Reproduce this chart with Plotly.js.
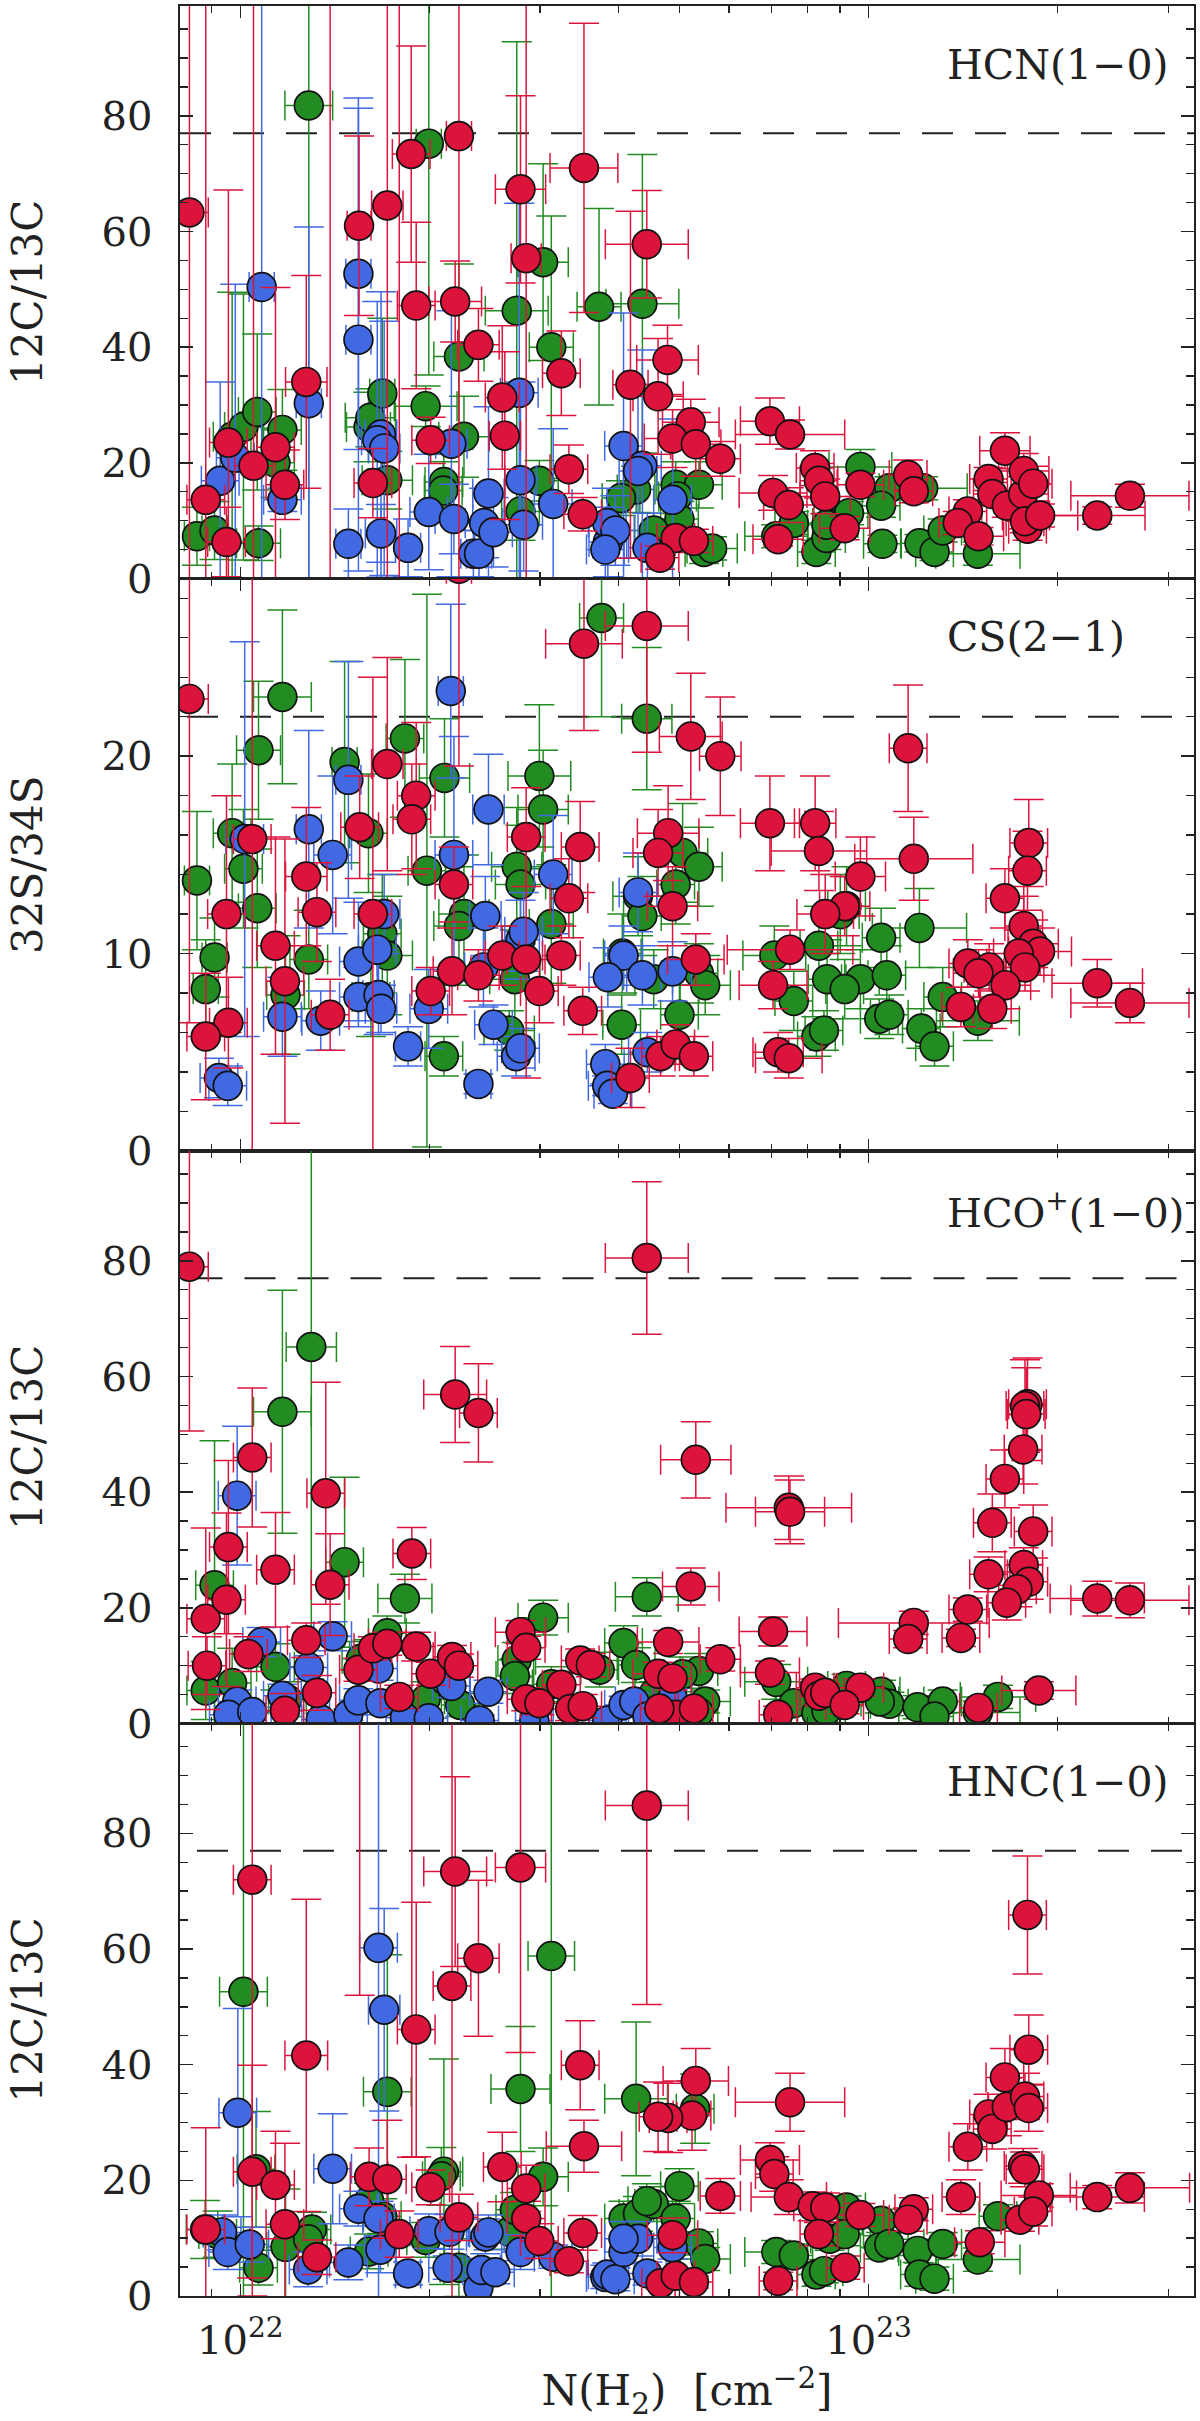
<!DOCTYPE html>
<html><head><meta charset="utf-8">
<script src="https://cdn.plot.ly/plotly-3.0.1.min.js"></script>
<style>html,body{margin:0;padding:0;background:#fff}</style></head>
<body><div id="chart" style="width:1200px;height:2421px"></div>
<script>
// Dex = log10(N(H2) / 1e22). Y = ratio, Ey = ratio error, Ex = error on N(H2) in dex.
const hcnRedDex=[-.081,-.055,-.022,-.019,.021,.056,.071,.105,.143,.189,.234,.253,.211,.272,.280,.303,.342,.348,.379,.417,.421,.446,.455,.511,.523,.545,.547,.647,.621,.680,.665,.717,.688,.725,.764,.843,.875,.848,.873,.856,.915,.921,.931,.962,.987,1.063,1.072,1.158,1.142,1.175,1.191,1.197,1.217,1.220,1.246,1.247,1.253,1.249,1.262,1.273,1.364,1.416,.693,.722,.668];
const hcnRedY=[63.3,13.6,6.3,23.5,19.5,22.7,16.2,34,105,61,64.5,105,16.5,73.4,47.2,23.9,47.9,76.5,40.4,31.3,24.7,67.3,55.4,35.5,18.9,11.1,71,57.8,33.5,37.8,31.5,27,24.2,23.2,20.7,27.2,24.9,14.8,12.7,6.8,19.1,16.9,14.2,8.7,16.2,17.9,15.1,11.6,9.6,7.3,17.2,14.6,22.1,12.6,14.6,18.6,8.6,9.9,16.4,10.9,10.9,14.3,7,6.5,3.6];
const hcnRedEy=[70,90,6,43.7,80,27.6,6,18.4,105,15.5,70,105,6,18.7,14.4,4,7,80,6.3,12.4,14.5,16.2,70,7.3,4.2,2.9,25,9.3,30,6,10,4,5,5.5,3,4,2.5,3,3,1.2,3,3,3,2,2,2.6,2,2,2,1.5,2,2,3.1,2,3,3,2,2,3,2,1.5,2,2,2,2];
const hcnRedEx=[.03,.03,.03,.03,.03,.03,.03,.033,.02,.019,.025,.02,.03,.03,.03,.03,.042,.02,.033,.027,.025,.04,.024,.03,.03,.03,.054,.066,.028,.049,.04,.045,.045,.04,.032,.047,.087,.054,.04,.04,.03,.03,.04,.04,.037,.03,.03,.03,.03,.04,.03,.03,.04,.04,.04,.04,.03,.03,.03,.06,.076,.094,.03,.03,.03];

const hcnGreenDex=[-.069,-.041,-.013,.005,.027,.056,.067,.029,.109,.300,.204,.207,.226,.234,.295,.324,.323,.348,.356,.440,.482,.495,.476,.446,.571,.640,.630,.693,.730,.696,.699,.658,.606,.738,.751,.853,.881,.987,1.033,1.020,1.087,.917,.933,.953,.969,.933,1.022,1.081,1.105,1.118,1.174];
const hcnGreenY=[7.3,8.3,24.5,26.2,28.8,20,25.7,6.1,81.8,75.2,26.2,27.8,32,17,29.8,16.7,15.2,38.4,24.5,46.3,54.7,40,16.9,11.6,47,47.5,15.4,16.2,16.2,14.2,10.3,8.3,13.9,4.6,5.2,7.3,9.6,19.3,15.6,12.6,15.6,4.6,7,9.6,11.3,9.3,6,6.1,4.6,8.3,4.3];
const hcnGreenEy=[5,5,25,23,13.5,6,7,3,100,40,6,5,13,5,3.5,5,5,16,7,46.5,17,22.7,3.5,5,17,25.8,4,4,4,3,3,3,3,2,2,2,2,3,2,2,2,2,2,2,2,2,1.5,1.5,1.5,2,2];
const hcnGreenEx=[.02,.02,.03,.03,.03,.03,.03,.035,.038,.02,.035,.04,.02,.04,.05,.03,.03,.04,.04,.05,.04,.035,.03,.03,.035,.058,.03,.03,.037,.03,.03,.03,.03,.03,.04,.05,.03,.05,.03,.03,.07,.03,.03,.03,.03,.03,.03,.03,.03,.03,.067];

const hcnBlueDex=[.034,-.032,-.008,.109,.067,.188,.188,.224,.218,.229,.172,.224,.267,.300,.336,.340,.371,.380,.395,.388,.403,.446,.444,.451,.498,.585,.610,.640,.633,.688,.584,.597,.581,.648];
const hcnBlueY=[50.4,16.9,20.9,30.3,13.6,52.7,41.3,24.9,23.9,22.5,6,7.8,5.3,11.5,23.3,10.3,4.3,4.3,14.7,9.6,8,17,32.1,9.3,12.9,6.3,22.9,19.5,18.6,13.6,9.6,8.3,5,5.3];
const hcnBlueEy=[60,17.1,30,30.5,2,30.4,40,24.7,24,22,6,5,5,10,23,6,4,4,15,6,6,17,32.8,8,13,6,23,20,15,14,6,6,5,6];
const hcnBlueEx=[.02,.03,.03,.02,.03,.02,.02,.025,.025,.025,.02,.025,.02,.03,.025,.03,.02,.02,.025,.03,.03,.025,.03,.03,.03,.03,.03,.03,.03,.03,.03,.03,.03,.03];

const csRedDex=[-.081,-.022,.019,-.019,-.055,.056,.071,.105,.122,.143,.190,.234,.211,.280,.273,.303,.337,.340,.379,.348,.417,.455,.455,.476,.511,.523,.541,.545,.547,.647,.717,.764,.681,.665,.688,.621,.725,.843,.915,.921,.987,.962,.931,.875,.848,.856,.873,1.063,1.072,1.255,1.253,1.217,1.247,1.262,1.273,1.239,1.158,1.192,1.175,1.249,1.218,1.147,1.197,1.364,1.416,.669,.693,.722];
const csRedY=[22.9,12,15.8,6.5,5.8,10.4,8.6,13.9,12.1,6.9,16.4,19.6,12,18,16.8,8.1,9.1,13.5,8.9,29.5,9.9,9.7,15.9,8.1,9.9,12.8,15.4,7.1,25.7,26.6,21,20,16.1,15.1,12.4,3.7,9.7,16.6,16.6,15.2,13.9,12.4,12,10.2,8.4,5,4.7,20.4,14.8,15.6,14.2,12.8,11.4,10.5,10.1,10,9.5,9.3,9,9.3,8.4,7.3,7.2,8.5,7.5,4.8,5.4,4.8];
const csRedEy=[16.4,6,16,2.3,3.2,5.5,7.2,3.5,2.5,1.8,2.6,5.4,12,3.7,2.8,1.2,2.2,1.9,1.3,10,1.5,6,2.5,1.6,1.5,2,2.3,1.2,4.4,6.4,3.2,3,2.4,2.2,2,1.5,1.3,2.4,2.4,2,2,1.5,2,1,1.2,1,1,3.2,2.1,2.2,2,1.5,1.5,1.2,1.2,1.2,1.2,1.2,1.2,1.2,1.2,1,1,1.2,1,1,1,1];
const csRedEx=[.03,.03,.03,.03,.03,.03,.03,.033,.03,.03,.03,.025,.03,.03,.03,.03,.03,.03,.033,.02,.027,.03,.03,.03,.03,.03,.03,.03,.061,.066,.05,.033,.049,.04,.04,.03,.045,.047,.033,.076,.04,.04,.045,.1,.054,.04,.053,.03,.094,.03,.03,.03,.03,.04,.05,.04,.03,.04,.04,.03,.04,.03,.03,.072,.094,.03,.03,.03];

const csGreenDex=[-.069,-.041,-.055,-.013,.005,.027,.029,.067,.072,.109,.166,.204,.226,.234,.208,.262,.297,.325,.324,.356,.348,.440,.446,.437,.428,.476,.482,.495,.575,.647,.633,.640,.693,.704,.730,.608,.658,.730,.740,.699,.607,.850,.881,.921,.934,.987,.962,1.029,1.020,1.081,.955,.965,1.017,1.033,1.084,1.105,1.118,1.174,.917,.929];
const csGreenY=[13.7,9.8,8.2,16.1,14.3,12.3,20.3,23,7.9,9.7,19.7,16.1,11,9.9,7.8,20.9,14.2,18.9,4.8,12,11.4,14.4,13.5,8.7,6.1,19,17.3,11.5,27,21.9,12.9,11.9,13.5,15.1,14.4,10,8.7,9,8.4,6.9,6.4,9.9,7.6,10.4,8.7,8.7,8.2,8.9,10.8,11.3,12,12.4,6.7,6.9,6.2,5.3,7.8,6.6,5.8,6.1];
const csGreenEy=[3.5,2,2.5,3.5,3,3,3.5,4.4,3,2.5,5.1,3,3,3,2,4,14,3,1,3,3,3,3,2.5,1,3.6,3,3,5,3.6,2,2,2,2.5,2,2,1.5,1.5,1.5,1.5,1.5,1.5,1.5,2,2,1.5,1.5,1.5,1.5,2,2,2,1,1,1,1,1.5,1,1,1];
const csGreenEx=[.02,.02,.02,.03,.03,.03,.035,.046,.03,.03,.02,.03,.03,.04,.03,.03,.03,.04,.03,.04,.04,.04,.04,.04,.04,.05,.04,.035,.035,.04,.04,.03,.03,.04,.037,.03,.03,.03,.04,.03,.03,.05,.03,.03,.03,.03,.03,.03,.03,.075,.03,.03,.03,.03,.03,.03,.03,.066,.03,.03];

const csBlueDex=[-.034,-.020,.007,.109,.147,.172,.067,.128,.188,.188,.220,.224,.229,.218,.267,.300,.335,.340,.379,.390,.387,.395,.403,.439,.446,.446,.451,.498,.581,.584,.593,.633,.610,.585,.640,.688,.648];
const csBlueY=[3.7,3.3,15.8,16.3,15,18.8,6.8,6.6,9.6,7.8,7.9,7.2,12,10.2,5.3,7.2,23.3,15,3.4,11.9,9.3,17.3,6.4,4.8,5.2,10.7,11.1,14,4.4,3.3,2.9,13.1,9.9,8.8,8.9,9.1,5];
const csBlueEy=[1,1,10,5,4,6,2,1.5,3,1.5,2,1.2,2,2,1,2,4.4,6,.5,2,2,2.8,1,1,1,2,2,3,1,.5,.5,2,1.5,1.5,1.5,1.5,1];
const csBlueEx=[.03,.03,.03,.02,.03,.02,.03,.03,.03,.03,.025,.025,.025,.03,.02,.03,.02,.03,.02,.025,.03,.025,.03,.03,.03,.03,.03,.03,.03,.03,.03,.03,.03,.03,.03,.03,.03];

const hcopRedDex=[-.081,-.055,-.053,-.019,-.022,.019,.056,.013,.105,.071,.122,.136,.143,.188,.211,.234,.253,.280,.273,.303,.337,.348,.342,.379,.446,.455,.455,.476,.511,.525,.545,.541,.558,.647,.725,.873,.875,.717,.681,.665,.688,.764,.848,.843,.856,.915,.921,.931,.987,.962,1.072,1.063,1.147,1.158,1.191,1.197,1.217,1.246,1.253,1.249,1.251,1.262,1.247,1.255,1.237,1.220,1.364,1.416,1.271,1.175,.693,.667,.722];
const hcopRedY=[79,18.1,10,30.5,21.4,46,26.6,12,14.4,2.2,5.3,39.8,24,9.3,13,13.8,4.6,13.3,29.4,8.6,11.5,10,56.9,53.7,15.8,13.1,4.2,3.5,6.7,2.5,3,10.9,10.1,80.5,45.6,37.3,36.6,23.7,14.1,8.6,7.8,11.1,15.9,8.8,1.5,6.2,4.8,5.3,6.2,3.2,17.4,14.6,14.8,19.7,25.8,34.7,42.3,47.4,55.2,54.9,53.5,33.2,27.4,24.5,23.2,20.9,21.6,21.3,5.7,2.7,1.5,2.6,2.6];
const hcopRedEy=[28.4,15.7,5,15,15,12,9.9,3,3,3,3,19.2,8.8,2,2,2,2,2.5,4.5,2,2,2,8.3,8.5,2,2,2,2,2,2,2,2,2,13.2,6.6,5.5,5.5,3.2,2,2,2,2,2.5,2,1.5,1.5,1.5,1.5,1.5,1.5,2,1.5,1.5,2,3,5,5,6,8,8,8,4.6,3,3,3,3,3,3,1.5,1,1,1,1];
const hcopRedEx=[.03,.03,.03,.03,.03,.03,.03,.03,.03,.03,.03,.03,.03,.03,.03,.03,.03,.03,.03,.03,.03,.03,.05,.03,.04,.03,.03,.03,.03,.03,.03,.03,.03,.066,.056,.1,.055,.045,.049,.04,.03,.032,.054,.047,.03,.03,.03,.03,.037,.03,.12,.03,.03,.03,.03,.03,.03,.03,.03,.03,.03,.03,.03,.03,.03,.03,.075,.094,.059,.03,.03,.03,.03];

const hcopGreenDex=[-.055,-.041,-.013,.056,.075,.067,.113,.166,.234,.262,.204,.192,.295,.326,.350,.482,.440,.437,.495,.647,.610,.572,.630,.730,.704,.658,.740,.730,.853,.881,.917,.933,.965,1.020,1.033,1.018,1.078,1.118,1.105,1.206,1.174];
const hcopGreenY=[5.7,23.9,7,9.8,4.2,53.9,65.1,27.9,15.6,21.6,11.5,11.2,4.2,7.5,3.2,18.3,11,8.2,6.8,21.9,13.9,9.3,10.1,9.1,8.5,5.2,3.8,1.9,7.2,3.5,1.8,2.2,6.5,5.5,3.4,3.8,2.8,3.8,1.2,4.6,1.9];
const hcopGreenEy=[5,25,6,4,3,21,70,14.7,3,4.2,3,3,3,3,2,3,3,3,3,3.3,3,3,3,3,3,2,2,2,3,2,2,2,2,2,2,2,2,2,2,2,2];
const hcopGreenEx=[.03,.03,.03,.03,.03,.046,.04,.03,.03,.043,.03,.03,.03,.03,.03,.04,.03,.03,.03,.05,.03,.03,.03,.03,.03,.03,.04,.03,.05,.03,.03,.03,.03,.03,.03,.03,.03,.03,.03,.06,.067];

const hcopBlueDex=[-.005,.034,.147,.109,.067,-.005,-.019,.019,.128,.172,.188,.220,.223,.262,.300,.336,.395,.381,.468,.584,.610,.627,.648,.688];
const hcopBlueY=[39.4,14.1,15.1,9.7,4.8,3.8,1.5,2,.7,1.5,4,9.5,3.5,1,.9,6.5,5.5,.5,.5,.5,3.2,3.8,1.2,4.5];
const hcopBlueEy=[12,2.5,2.5,2,2,2,1.5,1.5,1,1,2,2,2,1,1,2,2,1,1,1,1.5,1.5,1,1.5];
const hcopBlueEx=[.03,.03,.03,.03,.03,.03,.03,.03,.03,.03,.03,.03,.03,.03,.03,.03,.03,.03,.03,.03,.03,.03,.03,.03];

const hncRedDex=[-.055,.019,.019,.056,.071,.105,.122,.205,.234,.253,.280,.190,.273,.303,.337,.342,.379,.348,.417,.446,.455,.455,.476,.523,.541,.545,.547,.647,.725,.719,.681,.665,.688,.764,.843,.850,.875,.873,.856,.911,.931,.921,.987,.963,1.072,1.063,1.147,1.158,1.177,1.191,1.197,1.217,1.220,1.255,1.249,1.255,1.246,1.249,1.271,1.241,1.262,1.253,1.364,1.416,.669,.693,.722];
const hncRedY=[11.5,72,21.5,19.2,12.4,41.6,6.7,20.6,20.2,10.7,46.1,110,110,18.8,53.6,73.4,58.4,13.6,22.3,74.1,18.6,13.4,9.5,6,39.9,10.9,25.9,84.8,37.2,31.2,30.8,31,10.5,17.3,23.5,21.1,33.5,17.1,2.6,15.5,15.3,10.7,14,4.9,15,13.2,17.1,25.8,9.3,31.4,28.9,37.8,32.7,42.6,34.5,32.5,22.5,21.9,17.4,13.2,14.6,65.9,17.1,18.7,2.2,3.5,2.4];
const hncRedEy=[17.6,72,18.4,9.3,14,27,3,5,10.2,4,22,58,86,3,60,16.4,13.5,4,6,32,4,3,3,2,7.7,3,4.5,34.4,5.6,6,6,6,3,3,3,3,5,3,1.5,2.5,2.5,2,2,2,2,2,3,4,2,3.5,3.5,5,5,6,4,4,3,3,2,2,2.5,10.2,2,2.6,1,1,1];
const hncRedEx=[.03,.03,.03,.03,.03,.034,.03,.03,.03,.03,.03,.03,.03,.03,.03,.05,.033,.03,.03,.04,.03,.03,.03,.03,.03,.03,.06,.066,.052,.03,.03,.03,.04,.032,.047,.03,.087,.06,.03,.03,.03,.03,.037,.03,.03,.03,.03,.03,.04,.03,.03,.03,.03,.03,.03,.03,.03,.03,.06,.03,.03,.03,.075,.095,.03,.03,.03];

const hncGreenDex=[-.056,-.036,.005,.025,.029,.072,.114,.108,.205,.205,.226,.234,.295,.324,.320,.348,.428,.437,.446,.482,.495,.610,.633,.658,.647,.699,.693,.730,.740,.724,.853,.881,.917,.929,.938,.965,.962,1.020,1.017,1.033,1.078,1.081,1.105,1.118,1.174,1.206,.630];
const hncGreenY=[11.5,10.7,52.6,21.9,4.9,8.5,11.5,9.8,7.7,16.5,13.8,35.3,9.7,21.5,20.7,4.9,11.1,14.9,35.8,20.6,58.8,13.4,14.2,15.9,16.4,19,13.4,9.1,6.4,32.4,7.6,7,3.7,4.3,9.9,15.3,10.7,13,8.4,9,7.8,3.7,3,9,6.3,13.8,34.1];
const hncGreenEy=[5,4,53,10,3,10,3,3,3,3,3,23.7,3,19.5,5,5,3,3,10.8,5,70,3,3,3,3,3,3,2,2,6,2,2,2,2,2,2,2,2,2,2,2,2,2,2,2,2,13.3];
const hncGreenEx=[.03,.03,.038,.03,.03,.03,.03,.03,.03,.03,.03,.038,.03,.03,.03,.03,.03,.03,.047,.04,.037,.03,.03,.03,.03,.03,.03,.03,.04,.03,.05,.03,.03,.03,.03,.03,.03,.03,.03,.03,.03,.03,.03,.03,.067,.03,.05];

const hncBlueDex=[-.029,-.004,-.020,.015,.147,.108,.172,.188,.220,.220,.229,.223,.267,.300,.333,.330,.390,.395,.379,.384,.406,.446,.498,.581,.584,.597,.610,.633,.648,.688,.610];
const hncBlueY=[11,31.7,7.6,8.9,22,4.6,5.8,15.1,60.2,13.4,49.5,8,3.9,11.2,11.1,4.9,10.3,11,1.4,4.5,4.1,7.6,6.8,3.3,3.7,2.9,7.6,9.9,3.9,8.4,9.9];
const hncBlueEy=[3,18,3,3,9.5,3,3,3,65,3,17.5,4,2,3,3,2,3,3,2,2,2,3,2,2,2,2,2,3,2,2,3];
const hncBlueEx=[.03,.03,.03,.03,.03,.03,.03,.03,.03,.025,.025,.025,.02,.03,.03,.03,.03,.03,.02,.03,.03,.03,.03,.03,.03,.03,.03,.03,.03,.03,.03];

const panelLabels=['HCN(1−0)','CS(2−1)','HCO<sup>+</sup>(1−0)','HNC(1−0)'];
const yTitles=['12C/13C','32S/34S','12C/13C','12C/13C'];
const yMax=[99,29,99,99];
const refRatio=[77,22,77,77];
const yMajor=[[0,20,40,60,80],[0,10,20],[0,20,40,60,80],[0,20,40,60,80]];
const yMinor=[[5,10,15,25,30,35,45,50,55,65,70,75,85,90,95],[2,4,6,8,12,14,16,18,22,24,26,28],[5,10,15,25,30,35,45,50,55,65,70,75,85,90,95],[5,10,15,25,30,35,45,50,55,65,70,75,85,90,95]];
const xMajor=[1e22,1e23];
const xMajorText=['10<sup>22</sup>','10<sup>23</sup>'];
const xMinor=[9e21,2e22,3e22,4e22,5e22,6e22,7e22,8e22,9e22,2e23,3e23];
const xRangeLog=[21.904,23.518];

const colors={blue:'#4169E1',green:'#228B22',red:'#DC143C'};
const seriesByPanel=[
 [[hcnGreenDex,hcnGreenY,hcnGreenEy,hcnGreenEx,'green'],[hcnBlueDex,hcnBlueY,hcnBlueEy,hcnBlueEx,'blue'],[hcnRedDex,hcnRedY,hcnRedEy,hcnRedEx,'red']],
 [[csGreenDex,csGreenY,csGreenEy,csGreenEx,'green'],[csBlueDex,csBlueY,csBlueEy,csBlueEx,'blue'],[csRedDex,csRedY,csRedEy,csRedEx,'red']],
 [[hcopGreenDex,hcopGreenY,hcopGreenEy,hcopGreenEx,'green'],[hcopBlueDex,hcopBlueY,hcopBlueEy,hcopBlueEx,'blue'],[hcopRedDex,hcopRedY,hcopRedEy,hcopRedEx,'red']],
 [[hncGreenDex,hncGreenY,hncGreenEy,hncGreenEx,'green'],[hncBlueDex,hncBlueY,hncBlueEy,hncBlueEx,'blue'],[hncRedDex,hncRedY,hncRedEy,hncRedEx,'red']]
];
const W=1200,H=2421,mL=180,mR=6,mT=6,mB=125;
const FONT='DejaVu Serif', INK='#222222';
const data=[];
const layout={width:W,height:H,margin:{l:mL,r:mR,t:mT,b:mB},paper_bgcolor:'#fff',plot_bgcolor:'#fff',showlegend:false,
  font:{family:FONT,color:INK,size:40},shapes:[],annotations:[]};
const dashOffset=[0,7,11.5,17];
seriesByPanel.forEach((group,p)=>{
  const sfx=p===0?'':String(p+1);
  const top=1-p/4, bot=1-(p+1)/4;
  group.forEach(([dex,y,ey,ex,c])=>{
    const N=dex.map(d=>1e22*Math.pow(10,d));
    data.push({type:'scatter',mode:'markers',xaxis:'x'+sfx,yaxis:'y'+sfx,x:N,y:y,
      marker:{size:28.8,color:colors[c],line:{color:'#111',width:1.7}},
      error_y:{type:'data',symmetric:true,array:ey,color:colors[c],thickness:1.5,width:15},
      error_x:{type:'data',symmetric:false,
        array:dex.map((d,i)=>1e22*Math.pow(10,d+ex[i])-N[i]),
        arrayminus:dex.map((d,i)=>N[i]-1e22*Math.pow(10,d-ex[i])),
        color:colors[c],thickness:1.5,width:15},
      hoverinfo:'skip'});
  });
  layout['xaxis'+sfx]={type:'log',range:xRangeLog,anchor:'y'+sfx,domain:[0,1],
    tickmode:'array',tickvals:xMajor,ticktext:xMajorText,ticks:'inside',ticklen:12,tickwidth:1.6,tickcolor:INK,
    minor:{tickmode:'array',tickvals:xMinor,ticks:'inside',ticklen:7,tickwidth:1.4,tickcolor:INK},
    showline:true,linecolor:INK,linewidth:1.6,mirror:'ticks',showgrid:false,zeroline:false,
    showticklabels:p===3,ticklabelstandoff:8,tickfont:{family:FONT,size:40,color:INK},
    title:p===3?{text:'N(H<sub>2</sub>)  [cm<sup>−2</sup>]',font:{family:FONT,size:42,color:INK},standoff:6}:undefined};
  layout['yaxis'+sfx]={range:[0,yMax[p]],anchor:'x'+sfx,domain:[bot,top],
    tickmode:'array',tickvals:yMajor[p],ticktext:yMajor[p].map(String),ticks:'inside',ticklen:13,tickwidth:1.6,tickcolor:INK,
    minor:{tickmode:'array',tickvals:yMinor[p],ticks:'inside',ticklen:8,tickwidth:1.4,tickcolor:INK},
    showline:true,linecolor:INK,linewidth:1.6,mirror:'ticks',showgrid:false,zeroline:false,
    ticklabelstandoff:18,tickfont:{family:FONT,size:40,color:INK},
    title:{text:yTitles[p],font:{family:FONT,size:42,color:INK},standoff:46}};
  layout.shapes.push({type:'line',layer:'below',xref:'x'+sfx+' domain',yref:'y'+sfx,x0:dashOffset[p]/1014,x1:1,y0:refRatio[p],y1:refRatio[p],
    line:{color:INK,width:2,dash:'31px,22px'}});
  layout.annotations.push({xref:'x'+sfx+' domain',yref:'y'+sfx+' domain',x:(945-180)/1014,y:0.897,xanchor:'left',yanchor:'middle',
    text:panelLabels[p],showarrow:false,font:{family:FONT,size:p===2?40:41,color:INK}});
});
Plotly.newPlot('chart',data,layout,{staticPlot:true,displayModeBar:false});
</script></body></html>
